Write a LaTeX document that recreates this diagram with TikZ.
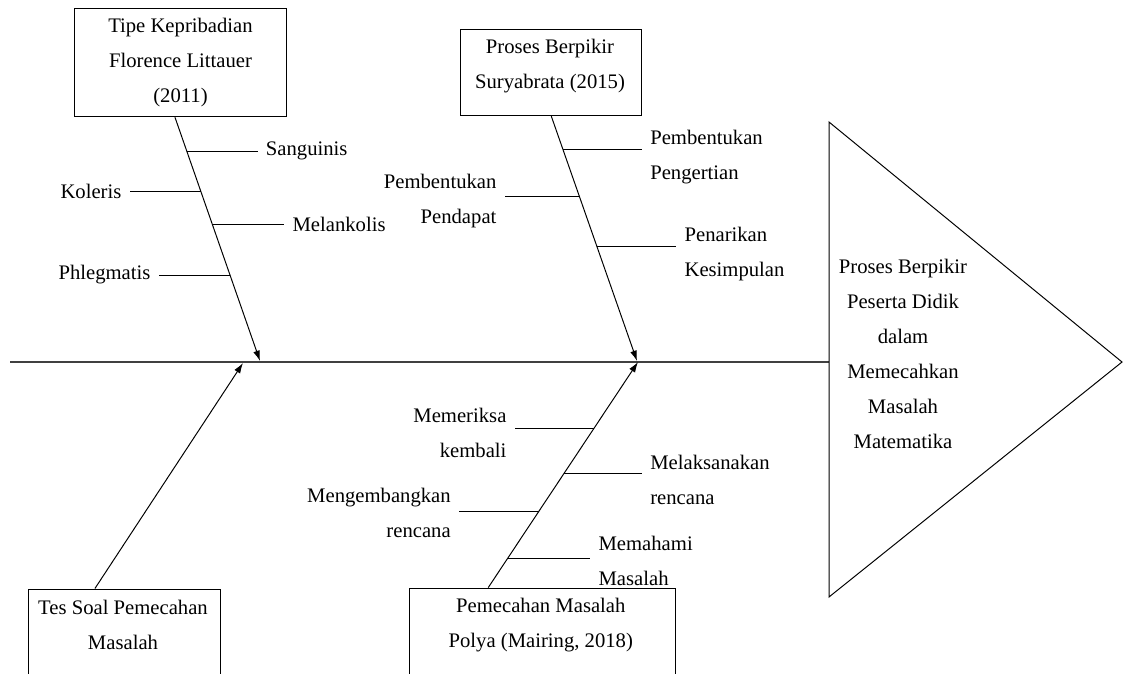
\documentclass[tikz,border=0pt]{standalone}
\usepackage{fontspec}
\setmainfont{LiberationSerif}[Extension=.ttf, UprightFont=*-Regular, BoldFont=*-Bold, ItalicFont=*-Italic, BoldItalicFont=*-BoldItalic]
\usetikzlibrary{arrows.meta, calc}

\begin{document}
\begin{tikzpicture}[x=0.025cm, y=-0.025cm,
        kotak/.style={rectangle, draw, line width=0.7pt},
        teks/.style={font=\rmfamily\fontsize{14.7}{24.9}\selectfont, align=center, inner sep=0pt},
        ket/.style={font=\rmfamily\fontsize{14.7}{24.9}\selectfont, inner xsep=0.2cm, inner ysep=1pt},
        panah/.style={-{Latex[length=0.26cm, width=0.17cm]}, line width=0.7pt},
        cabang/.style={line width=0.7pt},
        tulang/.style={line width=1pt, black!75}]

        \useasboundingbox (0,0) rectangle (1123,673);

        % kotak penyebab
        \node[kotak, minimum width=5.31cm, minimum height=2.71cm] (tipe) at (180.5,62.5) {};
        \node[teks] (tipeTeks) at (180.5,63) {Tipe Kepribadian\\Florence Littauer\\(2011)};
        \node[kotak, minimum width=4.52cm, minimum height=2.16cm] (proses) at (551.3,72.5) {};
        \node[teks] (prosesTeks) at (550,65.8) {Proses Berpikir\\Suryabrata (2015)};
        \node[kotak, minimum width=4.79cm, minimum height=2.8cm] (tes) at (124.2,645) {};
        \node[teks] (tesTeks) at (123,625) {Tes Soal Pemecahan\\Masalah};
        \node[kotak, minimum width=6.66cm, minimum height=2.82cm] (polya) at (542.5,644.5) {};
        \node[teks] (polyaTeks) at (540.8,625) {Pemecahan Masalah\\Polya (Mairing, 2018)};

        % tulang utama dan kepala
        \coordinate (ekor) at (10,362);
        \coordinate (kepala) at (829,362);
        \draw[tulang] (ekor) -- (kepala);
        \draw[line width=0.7pt] (829,122) -- (1122,362) -- (829,597) -- cycle;
        \node[teks] (akibat) at (903,354) {Proses Berpikir\\Peserta Didik\\dalam\\Memecahkan\\Masalah\\Matematika};

        \coordinate (t1) at (260,361);
        \coordinate (t2) at (637,361);
        \coordinate (t3) at (243,363);
        \coordinate (t4) at (638,362);
        \coordinate (a1) at ($(tipe.south west)!0.474!(tipe.south east)$);
        \coordinate (a2) at (proses.south);
        \coordinate (a3) at ($(tes.north west)!0.348!(tes.north east)$);
        \coordinate (a4) at ($(polya.north west)!0.297!(polya.north east)$);

        \draw[panah] (a1) -- (t1);
        \draw[panah] (a2) -- (t2);
        \draw[panah] (a3) -- (t3);
        \draw[panah] (a4) -- (t4);

        % Tipe kepribadian
        \coordinate (b11) at ($(a1)!0.140!(t1)$);
        \coordinate (b12) at ($(a1)!0.304!(t1)$);
        \coordinate (b13) at ($(a1)!0.439!(t1)$);
        \coordinate (b14) at ($(a1)!0.648!(t1)$);
        \node[ket, anchor=west] (sanguinis) at (257.7,151) {Sanguinis};
        \node[ket, anchor=east] (koleris) at (129.7,191) {Koleris};
        \node[ket, anchor=west] (melankolis) at (284.3,224.3) {Melankolis};
        \node[ket, anchor=east] (phlegmatis) at (158.7,275) {Phlegmatis};
        \draw[cabang] (b11) -- (b11 -| sanguinis.west);
        \draw[cabang] (b12) -- (b12 -| koleris.east);
        \draw[cabang] (b13) -- (b13 -| melankolis.west);
        \draw[cabang] (b14) -- (b14 -| phlegmatis.east);

        % Proses berpikir
        \coordinate (b21) at ($(a2)!0.137!(t2)$);
        \coordinate (b22) at ($(a2)!0.327!(t2)$);
        \coordinate (b23) at ($(a2)!0.534!(t2)$);
        \node[ket, anchor=west, align=left] (pengertian) at (642,157.5) {Pembentukan\\Pengertian};
        \node[ket, anchor=east, align=right] (pendapat) at (504.7,200.8) {Pembentukan\\Pendapat};
        \node[ket, anchor=west, align=left] (kesimpulan) at (676.3,254) {Penarikan\\Kesimpulan};
        \draw[cabang] (b21) -- (b21 -| pengertian.west);
        \draw[cabang] (b22) -- (b22 -| pendapat.east);
        \draw[cabang] (b23) -- (b23 -| kesimpulan.west);

        % Langkah Polya
        \coordinate (b41) at ($(a4)!0.706!(t4)$);
        \coordinate (b42) at ($(a4)!0.507!(t4)$);
        \coordinate (b43) at ($(a4)!0.337!(t4)$);
        \coordinate (b44) at ($(a4)!0.130!(t4)$);
        \node[ket, anchor=east, align=right] (memeriksa) at (514.7,433) {Memeriksa\\kembali};
        \node[ket, anchor=west, align=left] (melaksanakan) at (642,480) {Melaksanakan\\rencana};
        \node[ket, anchor=east, align=right] (mengembangkan) at (459,512.5) {Mengembangkan\\rencana};
        \node[ket, anchor=west, align=left] (memahami) at (590.3,560.5) {Memahami\\Masalah};
        \draw[cabang] (b41) -- (b41 -| memeriksa.east);
        \draw[cabang] (b42) -- (b42 -| melaksanakan.west);
        \draw[cabang] (b43) -- (b43 -| mengembangkan.east);
        \draw[cabang] (b44) -- (b44 -| memahami.west);
\end{tikzpicture}
\end{document}
